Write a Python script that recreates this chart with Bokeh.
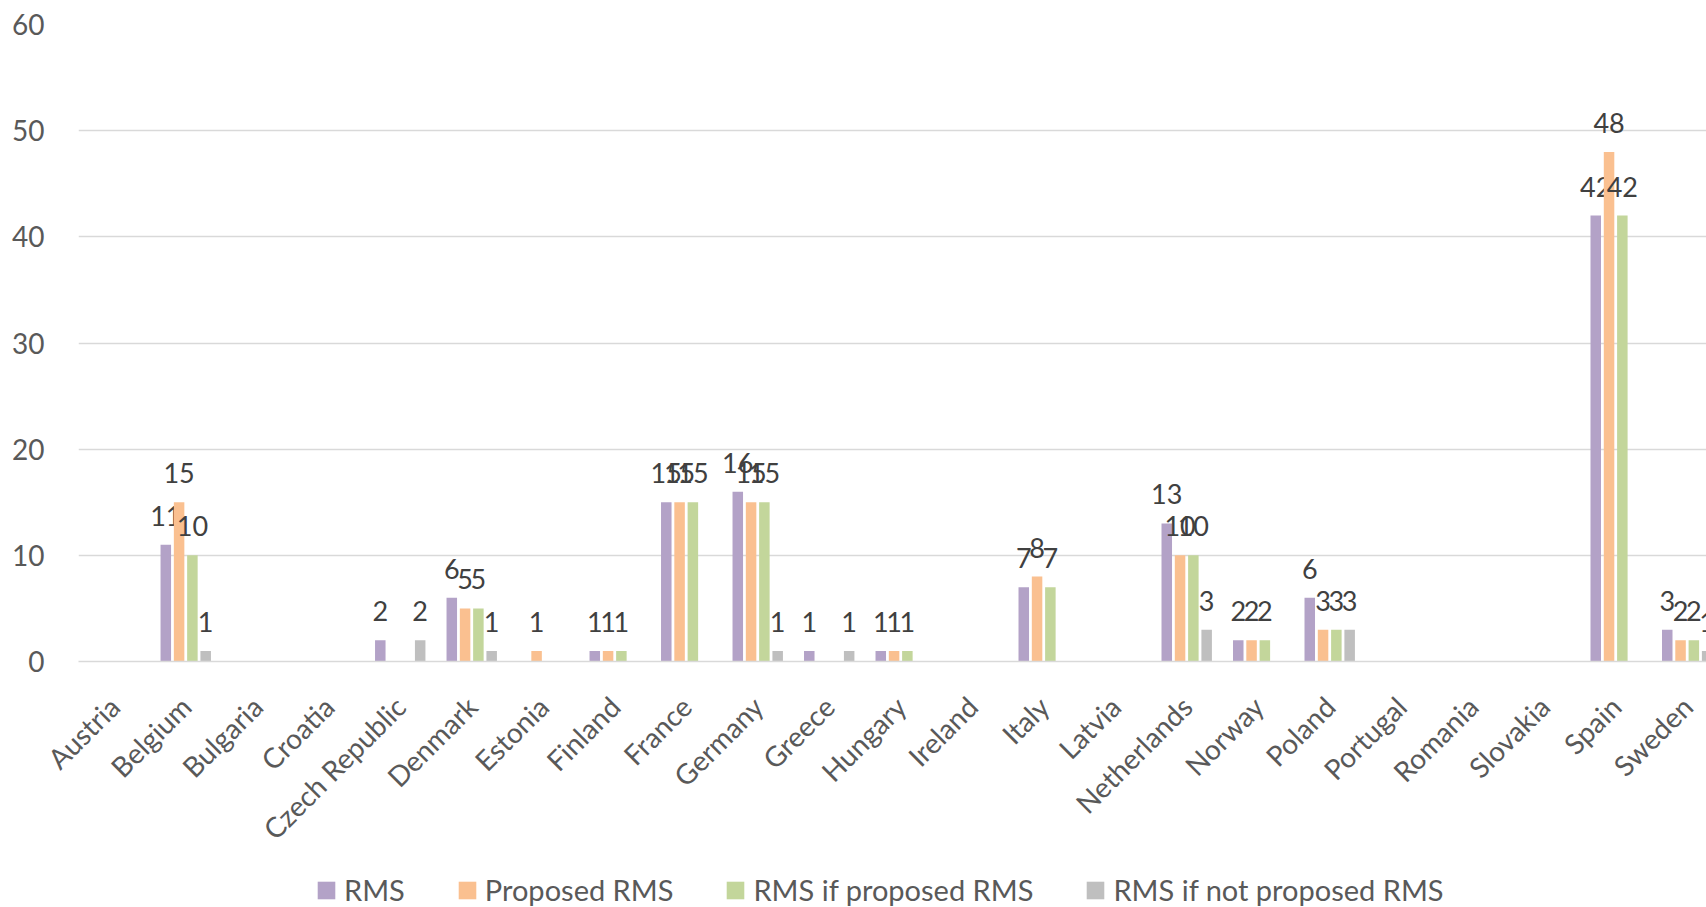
import math
from bokeh.plotting import figure
from bokeh.layouts import column
from bokeh.models import Range1d, FixedTicker, Legend, LegendItem, ColumnDataSource
from bokeh.core.properties import value
from bokeh.embed import file_html
from bokeh.resources import INLINE

countries = ["Austria", "Belgium", "Bulgaria", "Croatia", "Czech Republic", "Denmark",
             "Estonia", "Finland", "France", "Germany", "Greece", "Hungary", "Ireland",
             "Italy", "Latvia", "Netherlands", "Norway", "Poland", "Portugal", "Romania",
             "Slovakia", "Spain", "Sweden"]
rms =          [0, 11, 0, 0, 2, 6, 0, 1, 15, 16, 1, 1, 0, 7, 0, 13, 2, 6, 0, 0, 0, 42, 3]
proposed_rms = [0, 15, 0, 0, 0, 5, 1, 1, 15, 15, 0, 1, 0, 8, 0, 10, 2, 3, 0, 0, 0, 48, 2]
rms_if_prop =  [0, 10, 0, 0, 0, 5, 0, 1, 15, 15, 0, 1, 0, 7, 0, 10, 2, 3, 0, 0, 0, 42, 2]
rms_if_not =   [0, 1, 0, 0, 2, 1, 0, 0, 0, 1, 1, 0, 0, 0, 0, 3, 0, 3, 0, 0, 0, 0, 1]
series_names = ["RMS", "Proposed RMS", "RMS if proposed RMS", "RMS if not proposed RMS"]
colors = ["#B3A2C7", "#FAC090", "#C3D69B", "#BFBFBF"]
y_ticks = [0, 10, 20, 30, 40, 50, 60]

FONT = "Lato"
W = 1706
H_MAIN = 871
H_LEG = 36

p = figure(width=W, height=H_MAIN, output_backend="svg", toolbar_location=None,
           x_range=Range1d(-0.5, 22.27), y_range=Range1d(0, 60),
           min_border_left=78, min_border_right=0, min_border_top=24,
           min_border_bottom=210)
p.outline_line_color = None
p.background_fill_color = "white"
p.border_fill_color = "white"

slot = 0.186
bw = 0.147
all_series = [rms, proposed_rms, rms_if_prop, rms_if_not]
for k, (vals, col) in enumerate(zip(all_series, colors)):
    xs = [i + (k - 1.5) * slot for i in range(len(countries))]
    src = ColumnDataSource(dict(x=xs, top=vals))
    p.vbar(x="x", top="top", width=bw, source=src, fill_color=col, line_color=None)
    lx = [x for x, v in zip(xs, vals) if v > 0]
    ly = [v for v in vals if v > 0]
    lt = [str(v) for v in vals if v > 0]
    lsrc = ColumnDataSource(dict(x=lx, y=ly, t=lt))
    p.text(x="x", y="y", text="t", source=lsrc, text_font=value(FONT),
           text_font_size="27px", text_color="#404040", text_align="center",
           text_baseline="alphabetic", y_offset=-29)

p.xgrid.grid_line_color = None
p.ygrid.ticker = FixedTicker(ticks=y_ticks)
p.ygrid.grid_line_color = "#D9D9D9"
p.ygrid.grid_line_width = 1.5

p.yaxis.ticker = FixedTicker(ticks=y_ticks)
p.yaxis.axis_line_color = None
p.yaxis.major_tick_line_color = None
p.yaxis.minor_tick_line_color = None
p.yaxis.major_label_text_font = FONT
p.yaxis.major_label_text_font_size = "28px"
p.yaxis.major_label_text_color = "#595959"
p.yaxis.major_label_standoff = 28

p.xaxis.ticker = FixedTicker(ticks=list(range(len(countries))))
p.xaxis.major_label_overrides = {i: c for i, c in enumerate(countries)}
p.xaxis.major_label_orientation = math.pi / 4
p.xaxis.axis_line_color = "#D9D9D9"
p.xaxis.axis_line_width = 1.5
p.xaxis.major_tick_line_color = None
p.xaxis.minor_tick_line_color = None
p.xaxis.major_label_text_font = FONT
p.xaxis.major_label_text_font_size = "28px"
p.xaxis.major_label_text_color = "#595959"
p.xaxis.major_label_standoff = 34

# legend strip below the chart (its bars lie outside the strip's visible range)
lf = figure(width=W, height=H_LEG, output_backend="svg", toolbar_location=None,
            x_range=Range1d(0, 1), y_range=Range1d(0, 1),
            x_axis_location=None, y_axis_location=None,
            min_border_left=0, min_border_right=0, min_border_top=0, min_border_bottom=0)
lf.outline_line_color = None
lf.xgrid.grid_line_color = None
lf.ygrid.grid_line_color = None
leg_renderers = []
for col in colors:
    r = lf.vbar(x=[5], top=[1], width=0.1, fill_color=col, line_color=None)
    leg_renderers.append(r)

legend = Legend(items=[LegendItem(label=n, renderers=[r]) for n, r in zip(series_names, leg_renderers)],
                orientation="horizontal", location=(237, 0),
                border_line_color=None, background_fill_alpha=0,
                label_text_font=FONT, label_text_font_size="29px",
                label_text_color="#595959", spacing=51, label_standoff=7,
                glyph_width=22, glyph_height=22, padding=0, margin=0)
lf.add_layout(legend, "center")

layout = column(p, lf, spacing=0)
open("out.html", "w").write(file_html(layout, INLINE))
